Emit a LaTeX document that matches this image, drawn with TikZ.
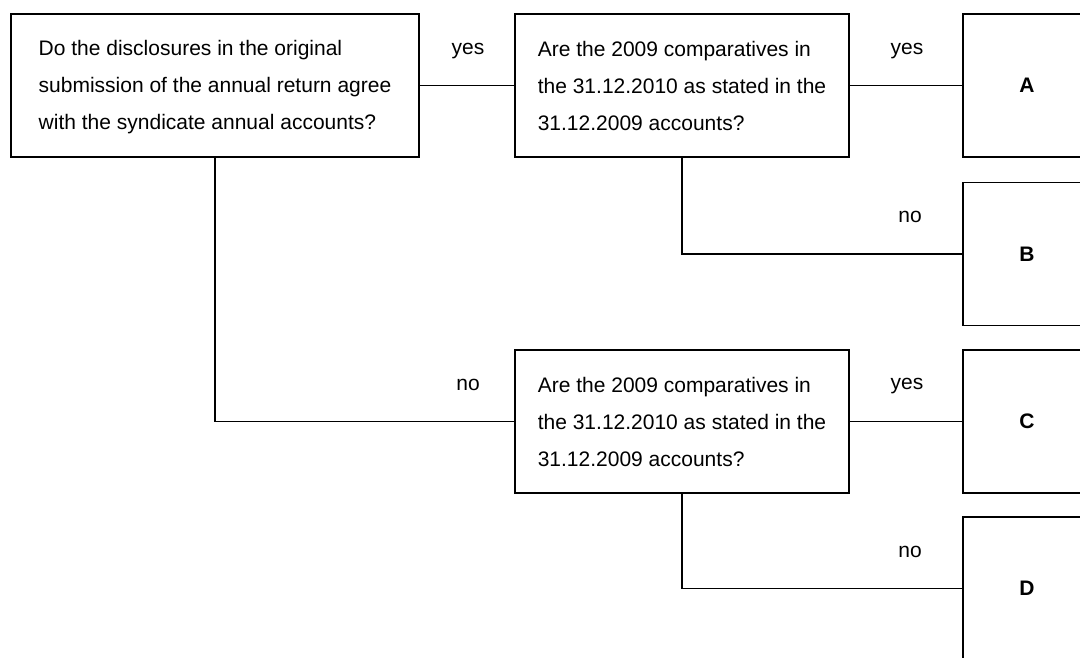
\documentclass[tikz,border=0pt]{standalone}
\usepackage{fontspec}
\setmainfont{Liberation Sans}
\begin{document}
\begin{tikzpicture}[x=1pt, y=-1pt, line width=1.5pt,
  qbox/.style={draw, align=left, minimum height=143pt,
    font=\fontsize{21}{37}\selectfont},
  rbox/.style={draw, minimum width=128pt, minimum height=143pt,
    font=\fontsize{21}{25}\selectfont\bfseries},
  lbl/.style={font=\fontsize{21}{25}\selectfont}]
\clip (0, 0) rectangle (1080, 657);
% Fragen
\node[qbox, minimum width=408pt] (q1) at (215, 85.5)
  {\rule{0pt}{19pt}Do the disclosures in the original\\submission of the annual return agree\\with the syndicate annual accounts?};
\node[qbox, minimum width=334pt] (q2) at (682, 85.5)
  {Are the 2009 comparatives in\\the 31.12.2010 as stated in the\\31.12.2009 accounts?};
\node[qbox, minimum width=334pt] (q3) at (682, 421.5)
  {Are the 2009 comparatives in\\the 31.12.2010 as stated in the\\31.12.2009 accounts?};
% Ergebnisse
\node[rbox] (resA) at (1027, 85.5) {A};
\node[rbox] (resB) at (1027, 254) {B};
\node[rbox] (resC) at (1027, 421.5) {C};
\node[rbox] (resD) at (1027, 588.5) {D};
% Linien
\draw (q1.east) -- (q2.west);
\draw (q1.south) |- (q3.west);
\draw (q2.east) -- (resA.west);
\draw (q2.south) |- (resB.west);
\draw (q3.east) -- (resC.west);
\draw (q3.south) |- (resD.west);
%Text
\node[lbl] (y1) at (468, 51) {yes};
\node[lbl] (y2) at (907, 51) {yes};
\node[lbl] (n1) at (910, 217) {no};
\node[lbl] (n2) at (468, 385) {no};
\node[lbl] (y3) at (907, 386) {yes};
\node[lbl] (n3) at (910, 552) {no};
\end{tikzpicture}
\end{document}
